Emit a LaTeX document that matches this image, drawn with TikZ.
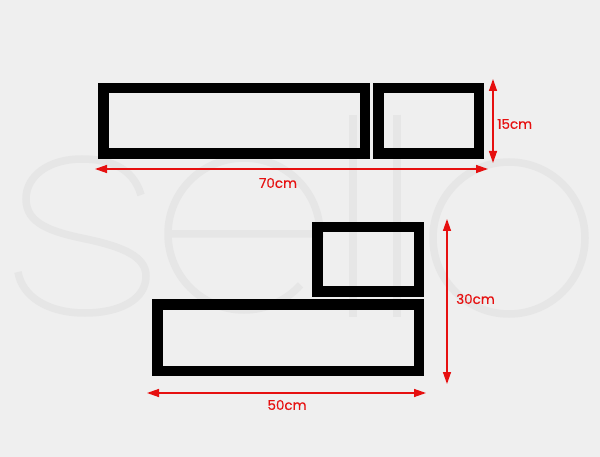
\documentclass[tikz,border=0pt]{standalone}
\usepackage{fontspec}
\setmainfont[FakeBold=0.3]{Poppins}
\usetikzlibrary{arrows.meta,positioning}
\definecolor{bggray}{RGB}{239,239,239}
\definecolor{markgray}{RGB}{230,230,230}
\definecolor{dimred}{RGB}{230,16,16}
\tikzset{
    shelf/.style = {
        draw = black,
        line width = 10.5pt,
        inner sep = 0pt,
        },
    dim/.style = {
        draw = dimred,
        line width = 1.4pt,
        {Triangle[length=12pt,width=8pt]}-{Triangle[length=12pt,width=8pt]},
        },
    dim label/.style = {
        text = dimred,
        font = \fontsize{13.5}{16}\selectfont,
        inner sep = 0pt,
        },
    watermark/.style = {
        draw = markgray,
        line width = 7.5pt,
        },
}

\begin{document}
\begin{tikzpicture}[x=1pt, y=-1pt]
    \useasboundingbox[fill=bggray] (0,0) rectangle (600,457);

    % watermark letters
    \path[watermark] (141,195) .. controls (133,167) and (108,159) .. (82,159)
        .. controls (47,159) and (26,177) .. (26,199)
        .. controls (26,224) and (52,232) .. (86,239)
        .. controls (124,247) and (146,257) .. (146,276)
        .. controls (146,300) and (119,313) .. (85,313)
        .. controls (47,313) and (22,296) .. (18,272);
    \path[watermark] (170,234) -- (320,234) arc[start angle=0, end angle=-318, radius=76];
    \path[watermark] (353,115) -- (353,317);
    \path[watermark] (397,115) -- (397,317);
    \path[watermark] (509,238) circle[radius=76];

    % shelves, top row
    \node[shelf, minimum width=261.5pt, minimum height=65.5pt] (long) at (234,121) {};
    \node[shelf, minimum width=100.5pt, minimum height=65.5pt, right=3pt of long] (short) {};

    % shelves, bottom row
    \node[shelf, minimum width=261.5pt, minimum height=66.5pt] (base) at (288,337.5) {};
    \node[shelf, minimum width=101.5pt, minimum height=64.5pt, above left=2pt and 0pt of base.north east] (cube) {};

    % dimensions
    \coordinate (w70) at (95,169);
    \coordinate (e70) at (488,169);
    \coordinate (n15) at (493,79);
    \coordinate (s15) at (493,163);
    \coordinate (n30) at (447,219);
    \coordinate (s30) at (447,384);
    \coordinate (w50) at (147,393);
    \coordinate (e50) at (426,393);

    \draw[dim] (w70) -- (e70);
    \draw[dim] (n15) -- (s15);
    \draw[dim] (n30) -- (s30);
    \draw[dim] (w50) -- (e50);

    \node[dim label] (l70) at (278,183) {70cm};
    \node[dim label, anchor=west] (l15) at (497,124) {15cm};
    \node[dim label, anchor=west] (l30) at (456,299) {30cm};
    \node[dim label] (l50) at (287,405) {50cm};
\end{tikzpicture}
\end{document}
